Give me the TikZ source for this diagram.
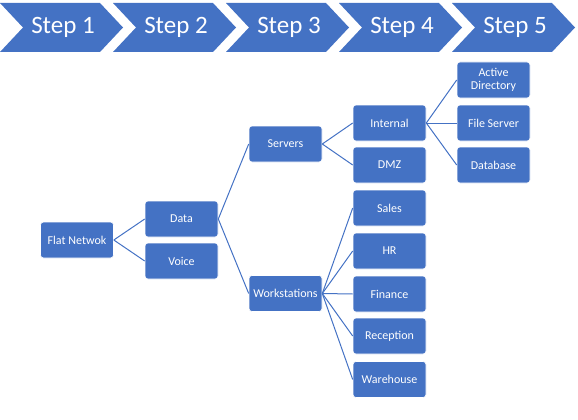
\documentclass[tikz,border=0pt]{standalone}
\usepackage{fontspec}
\setmainfont{Carlito}
\usetikzlibrary{positioning}

\definecolor{offblue}{HTML}{4472C4}

\tikzset{
  box/.style={draw=white,line width=0.6pt,fill=offblue,rounded corners=3pt,
    minimum width=73pt,minimum height=36pt,inner sep=0pt,text=white,
    align=center,font=\fontsize{12}{12.5}\selectfont},
  link/.style={draw=offblue,line width=1pt},
  chev/.style={fill=offblue},
  chevtext/.style={text=white,font=\fontsize{25}{30}\selectfont}
}

\begin{document}
\begin{tikzpicture}[x=1pt,y=-1pt]

      \useasboundingbox (0,0) rectangle (578,420);

      % step chevrons
      \foreach \i in {1,...,5}{
        \pgfmathsetmacro{\xo}{113*(\i-1)}
        \fill[chev] (\xo,3) -- ++(100,0) -- ++(23,24.5) -- ++(-23,24.5)
          -- ++(-100,0) -- ++(23,-24.5) -- cycle;
        \node[chevtext] (step\i) at (\xo+63,27.5) {Step \i};
      }

      % tree
      \node[box] (flat) at (77,240) {Flat Netwok};
      \node[box] (data) at (181.5,219) {Data};
      \node[box] (voice) at (181.5,261) {Voice};
      \node[box] (servers) at (285.5,144) {Servers};
      \node[box] (works) at (285.5,293.5) {Workstations};
      \node[box] (internal) at (389.5,123) {Internal};
      \node[box] (dmz) at (389.5,165) {DMZ};
      \node[box] (sales) at (389.5,208) {Sales};
      \node[box] (hr) at (389.5,251) {HR};
      \node[box] (finance) at (389.5,294) {Finance};
      \node[box] (reception) at (389.5,336) {Reception};
      \node[box] (warehouse) at (389.5,379.5) {Warehouse};
      \node[box] (ad) at (493.5,80) {Active\\Directory};
      \node[box] (fileserver) at (493.5,123) {File Server};
      \node[box] (database) at (493.5,165) {Database};

      \foreach \a/\b in {flat/data,flat/voice,data/servers,data/works,
          servers/internal,servers/dmz,internal/ad,internal/fileserver,
          internal/database,works/sales,works/hr,works/finance,
          works/reception,works/warehouse}
        \draw[link] (\a.east) -- (\b.west);
  \end{tikzpicture}
\end{document}
